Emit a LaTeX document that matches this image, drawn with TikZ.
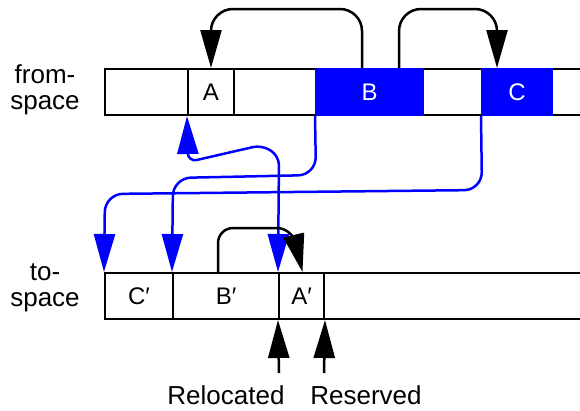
\documentclass[tikz,border=0pt]{standalone}
\usepackage{fontspec}
\setmainfont{Liberation Sans}
\usetikzlibrary{arrows.meta}
\begin{document}
\begin{tikzpicture}[x=1pt,y=-1pt,
  bar/.style={draw=black,line width=2pt},
  cellbox/.style={draw=black,line width=2pt,minimum height=46pt,inner sep=0pt,
    font=\fontsize{24}{24}\selectfont},
  bluecell/.style={cellbox,fill=blue,draw=blue,text=white},
  ptr/.style={line width=2.5pt,rounded corners=22pt,-{Triangle[length=38pt,width=21pt]}},
  bptr/.style={ptr,draw=blue,rounded corners=18pt},
  lbl/.style={font=\fontsize{26}{26}\selectfont,align=center,inner sep=0pt}
]
\useasboundingbox (0,0) rectangle (580,410);

% from-space bar
\draw[bar] (590,69) -- (105,69) -- (105,115) -- (590,115);
\node[cellbox,minimum width=46pt] (A) at (211,92) {A};
\node[bluecell,minimum width=107pt] (B) at (369.5,92) {B};
\node[bluecell,minimum width=70pt] (C) at (517,92) {C};

% to-space bar
\draw[bar] (590,273) -- (105,273) -- (105,319) -- (590,319);
\node[cellbox,minimum width=68pt] (Cp) at (139,296) {C′};
\node[cellbox,minimum width=106pt] (Bp) at (226,296) {B′};
\node[cellbox,minimum width=45pt] (Ap) at (301.5,296) {A′};

% side labels
\node[lbl] (fs) at (45,90) {from-\\space};
\node[lbl] (ts) at (45,288) {to-\\space};

% black pointers in from-space
\draw[ptr] ([xshift=-7.5pt]B.north) -- ++(0,-59) -| (A.north);
\draw[ptr] ([xshift=29.5pt]B.north) -- ++(0,-59) -| ([xshift=-20pt]C.north);

% blue forwarding paths
\draw[bptr] (B.south west) -- (316,175) -- (173,178) -- (Bp.north west);
\draw[bptr] (C.south west) -- (482,190) -- (105,194) -- (Cp.north west);
\draw[bptr,rounded corners=9pt,{Triangle[length=38pt,width=21pt]}-{Triangle[length=38pt,width=21pt]}]
  (A.south west) -- (188,162) -- (262,145) -- (279,156) -- (Ap.north west);

% black pointer in to-space
\draw[ptr,rounded corners=15pt] ([xshift=-8pt]Bp.north) -- (218,228) -- (292,228) -- ([xshift=1pt]Ap.north);

% bottom markers
\coordinate (rel) at (279,373);
\coordinate (res) at (324,373);
\draw[ptr] (rel) -- (Ap.south west);
\draw[ptr] (res) -- (Ap.south east);
\node[lbl] (relocated) at (226,395) {Relocated};
\node[lbl] (reserved) at (366,395) {Reserved};
\end{tikzpicture}
\end{document}
